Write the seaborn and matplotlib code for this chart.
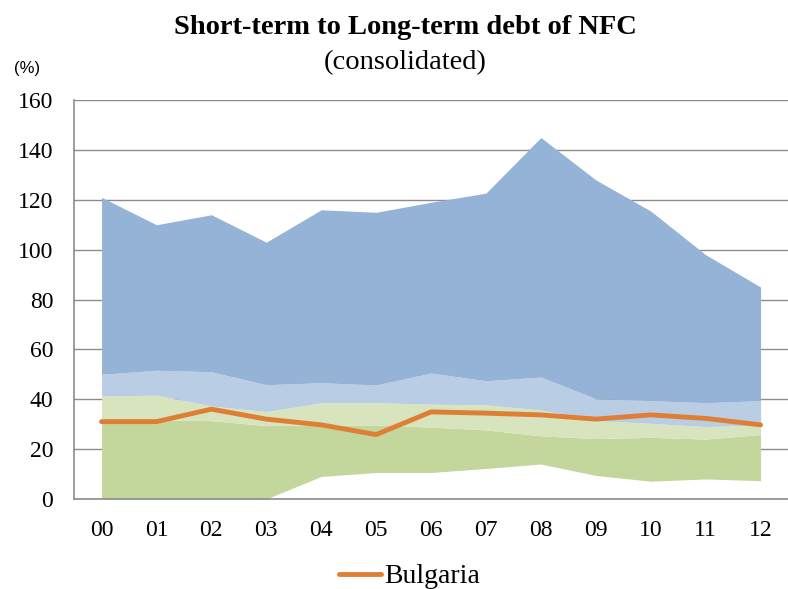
import numpy as np
import pandas as pd
import matplotlib
matplotlib.use('Agg')
import matplotlib.pyplot as plt
import seaborn as sns

# Data
years = ['00', '01', '02', '03', '04', '05', '06', '07', '08', '09', '10', '11', '12']
band_min = [0, 0, 0, 0, 9.0, 10.6, 10.6, 12.2, 14.0, 9.4, 7.1, 8.0, 7.3]
band_q1 = [30.5, 31.7, 31.4, 29.4, 29.6, 29.6, 28.8, 27.7, 25.3, 24.2, 24.7, 24.0, 25.8]
band_med = [41.3, 41.6, 37.3, 35.0, 38.6, 38.6, 38.0, 37.7, 35.7, 31.4, 30.3, 29.0, 29.7]
band_q3 = [50.0, 51.6, 51.0, 45.8, 46.6, 45.7, 50.5, 47.4, 48.9, 40.2, 39.4, 38.6, 39.4]
band_max = [121.0, 110.0, 114.0, 103.0, 116.0, 115.0, 119.0, 122.7, 145.0, 128.0, 115.5, 98.0, 85.0]
bulgaria = [31.0, 31.0, 36.0, 32.0, 29.7, 25.8, 34.9, 34.4, 33.7, 32.0, 33.7, 32.3, 29.7]

sns.set_style('white')
plt.rcParams['font.family'] = ['Liberation Serif', 'DejaVu Serif']
plt.rcParams['text.color'] = 'black'
plt.rcParams['xtick.color'] = 'black'
plt.rcParams['ytick.color'] = 'black'

fig = plt.figure(figsize=(7.88, 5.89), dpi=100)
ax = fig.add_axes([0.094, 0.153, 0.906, 0.677])

x = np.arange(len(years))
colors = ['#C3D69B', '#D7E4BD', '#B9CDE5', '#95B3D7']
bounds = [band_min, band_q1, band_med, band_q3, band_max]
for i, c in enumerate(colors):
    ax.fill_between(x, bounds[i], bounds[i + 1], color=c, linewidth=0, zorder=2)

df = pd.DataFrame({'x': x, 'Bulgaria': bulgaria})
sns.lineplot(data=df, x='x', y='Bulgaria', ax=ax, color='#DE7F35', linewidth=3.5,
             label='Bulgaria', zorder=3)

ax.set_xlim(-0.5, 12.5)
ax.set_ylim(0, 160)
ax.set_yticks(range(0, 161, 20))
ax.set_xticks(x)
ax.set_xticklabels(years)
ax.tick_params(axis='both', labelsize=17, length=0)
ax.tick_params(axis='x', pad=15)
ax.tick_params(axis='y', pad=15)
ax.grid(axis='y', color='#8C8C8C', linewidth=1.0, zorder=1)
ax.set_axisbelow(True)
ax.set_xlabel('')
ax.set_ylabel('')
for s in ['top', 'right']:
    ax.spines[s].set_visible(False)
for s in ['left', 'bottom']:
    ax.spines[s].set_color('#8C8C8C')
    ax.spines[s].set_linewidth(1.2)

fig.text(0.514, 0.953, 'Short-term to Long-term debt of NFC', ha='center', va='center',
         fontsize=20.5, fontweight='bold')
fig.text(0.514, 0.894, '(consolidated)', ha='center', va='center', fontsize=20.5)
fig.text(0.034, 0.884, '(%)', ha='center', va='center', fontsize=12,
         family=['Liberation Sans', 'DejaVu Sans'])

ax.legend(loc='center', bbox_to_anchor=(0.47, -0.195), frameon=False,
          fontsize=20, handlelength=1.5, handletextpad=0.1)

fig.savefig('out.png', dpi=100)
